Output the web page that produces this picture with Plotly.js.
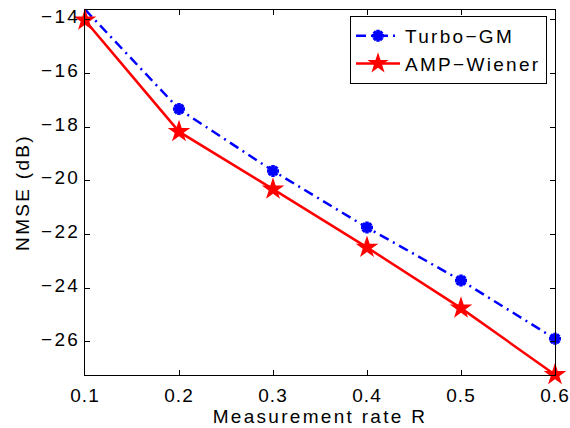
<!DOCTYPE html>
<html>
<head>
<meta charset="utf-8">
<script src="https://cdn.plot.ly/plotly-3.0.1.min.js"></script>
<style>
html,body{margin:0;padding:0;background:#fff;}
#chart{width:570px;height:428px;}
text{letter-spacing:2.3px;}
g.xtick text{letter-spacing:1.1px;}
</style>
</head>
<body>
<div id="chart"></div>
<script>
const rates = [0.1, 0.2, 0.3, 0.4, 0.5, 0.6];
const turboGM = [-13.62, -17.33, -19.63, -21.74, -23.71, -25.88];
const ampWiener = [-14.02, -18.17, -20.31, -22.48, -24.74, -27.22];
const seriesNames = ['Turbo\u2212GM', 'AMP\u2212Wiener'];
const yTicks = [-26, -24, -22, -20, -18, -16, -14];
const xTicks = [0.1, 0.2, 0.3, 0.4, 0.5, 0.6];

const font = {family: 'Liberation Sans, Arial, sans-serif', size: 19, color: '#000'};

const traces = [
  {
    x: rates, y: turboGM, name: seriesNames[0], type: 'scatter', mode: 'lines+markers',
    cliponaxis: false,
    line: {color: '#0000ff', width: 2.5, dash: '10px,5px,2px,5px'},
    marker: {symbol: 'asterisk-open', size: 10, color: '#0000ff', line: {color: '#0000ff', width: 3.5}}
  },
  {
    x: rates, y: ampWiener, name: seriesNames[1], type: 'scatter', mode: 'lines+markers',
    cliponaxis: false,
    line: {color: '#ff0000', width: 2.5},
    marker: {symbol: 'star', size: 17, color: '#ff0000', line: {width: 0}}
  }
];

const axisCommon = {
  showgrid: false, zeroline: false, showline: true, linecolor: '#000', linewidth: 1,
  mirror: 'ticks', ticks: 'inside', ticklen: 5, tickcolor: '#000', tickwidth: 1,
  tickfont: font, ticklabeloverflow: 'allow'
};

const layout = {
  width: 570, height: 428,
  margin: {l: 85, r: 15, t: 10, b: 52.5},
  paper_bgcolor: '#fff', plot_bgcolor: '#fff',
  font: font,
  showlegend: true,
  legend: {
    x: 0.983, y: 0.984, xanchor: 'right', yanchor: 'top',
    bgcolor: '#fff', bordercolor: '#000', borderwidth: 1,
    font: font, itemwidth: 44
  },
  xaxis: Object.assign({}, axisCommon, {
    range: [0.1, 0.6], tickvals: xTicks, ticktext: xTicks.map(v => v.toFixed(1)),
    ticklabelstandoff: 3,
    title: {text: 'Measurement rate R', font: font, standoff: 2}
  }),
  yaxis: Object.assign({}, axisCommon, {
    range: [-27.23, -13.64], tickvals: yTicks, ticktext: yTicks.map(v => '\u2212' + Math.abs(v)),
    ticklabelshift: -3,
    title: {text: 'NMSE (dB)', font: font, standoff: 6}
  })
};

Plotly.newPlot('chart', traces, layout, {staticPlot: true, displayModeBar: false});
</script>
</body>
</html>
